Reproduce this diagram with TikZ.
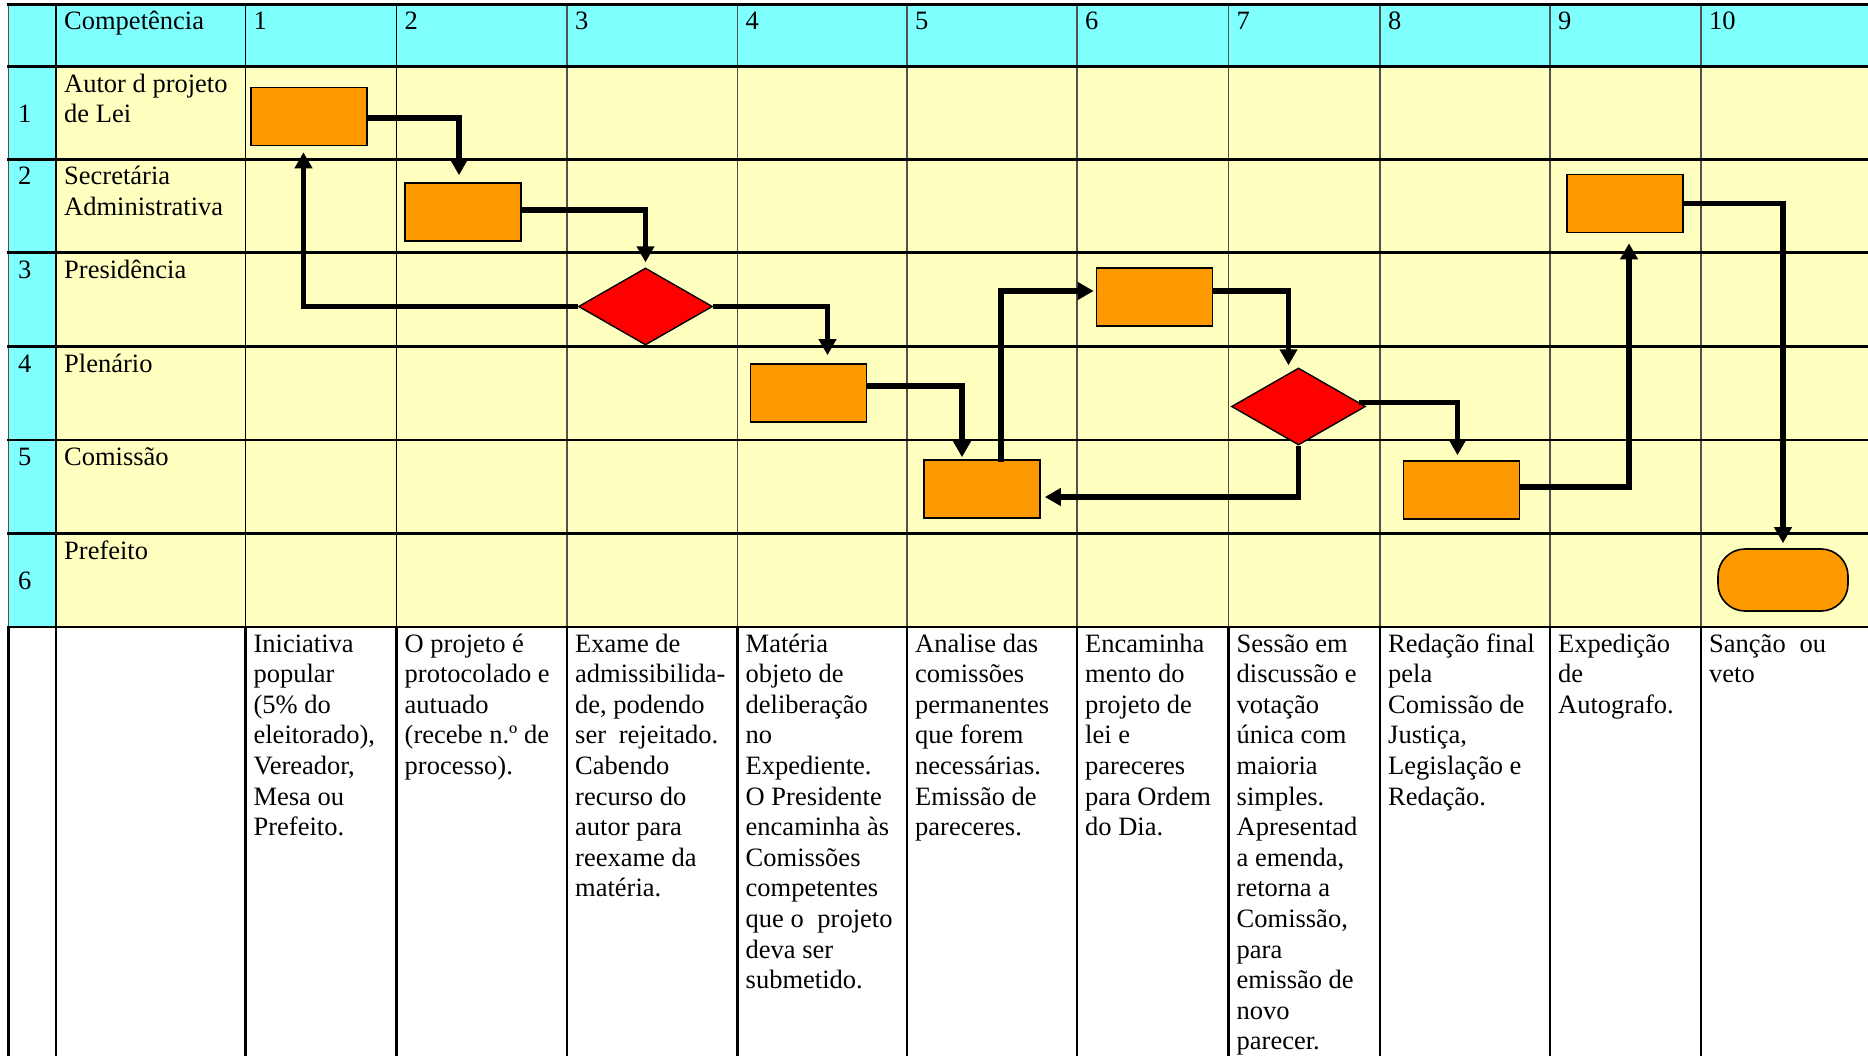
\documentclass[tikz,border=0pt]{standalone}
\usepackage{fontspec}
\setmainfont{Liberation Serif}
\newfontfamily\tnrfont{Liberation Serif}
\usetikzlibrary{shapes.geometric,arrows.meta,calc}
\definecolor{hdrcyan}{HTML}{80FFFF}
\definecolor{laneyel}{HTML}{FFFFC0}
\definecolor{boxorange}{HTML}{FF9900}
\definecolor{decred}{HTML}{FF0000}
\definecolor{gridgray}{HTML}{505050}
\newcommand{\celltext}[1]{\parbox[t]{240pt}{\raggedright #1}}
\begin{document}
\begin{tikzpicture}[x=1pt,y=-1pt,
  lbl/.style={anchor=base west, inner sep=0pt, font=\tnrfont\fontsize{26.5}{30.6}\selectfont},
  vthin/.style={draw=gridgray, line width=1.4pt},
  vdark/.style={draw=black, line width=1.8pt},
  vthick/.style={draw=black, line width=2.4pt},
  hline/.style={draw=black, line width=2.6pt},
  procbox/.style={draw=black, line width=1.6pt, fill=boxorange, minimum width=116pt, minimum height=58pt, inner sep=0pt},
  decision/.style={diamond, draw=black, line width=1.4pt, fill=decred, minimum width=134pt, minimum height=77pt, inner sep=0pt},
  termbox/.style={draw=black, line width=1.6pt, fill=boxorange, minimum width=130pt, minimum height=62pt, inner sep=0pt, rounded corners=27pt},
  arr/.style={line width=5.5pt, -{Triangle[width=17pt,length=16pt]}}
]
\useasboundingbox (0,0) rectangle (1868,1056);
\fill[white] (0,0) rectangle (1868,1056);
% backgrounds
\fill[hdrcyan] (8.4,4.5) rectangle (1868,66.7);
\fill[hdrcyan] (8.4,66.7) rectangle (56,627);
\fill[laneyel] (56,66.7) rectangle (1868,627);
% vertical grid lines
\foreach \x in {8.4,567,737.5,907,1077,1228.5,1380,1550,1701} {
  \draw[vthin] (\x,4.5) -- (\x,627);
  \draw[vthick] (\x,627) -- (\x,1056);
}
\foreach \x in {56,245.4,396.5} {
  \draw[vdark] (\x,4.5) -- (\x,627);
  \draw[vthick] (\x,627) -- (\x,1056);
}
% horizontal grid lines
\foreach \y in {4.5,66.7,159.5,252.7,346.7,440,533.5,627} {
  \draw[hline] (7.2,\y) -- (1868,\y);
}

% header row
\node[lbl] (hc) at (64,30) {Competência};
\node[lbl] (h1) at (253.4,30) {1};
\node[lbl] (h2) at (404.5,30) {2};
\node[lbl] (h3) at (575,30) {3};
\node[lbl] (h4) at (745.5,30) {4};
\node[lbl] (h5) at (915,30) {5};
\node[lbl] (h6) at (1085,30) {6};
\node[lbl] (h7) at (1236.5,30) {7};
\node[lbl] (h8) at (1388,30) {8};
\node[lbl] (h9) at (1558,30) {9};
\node[lbl] (h10) at (1709,30) {10};

% row numbers
\node[lbl] (n1) at (18,122.8) {1};
\node[lbl] (n2) at (18,185) {2};
\node[lbl] (n3) at (18,278.2) {3};
\node[lbl] (n4) at (18,372.2) {4};
\node[lbl] (n5) at (18,465.5) {5};
\node[lbl] (n6) at (18,589.6) {6};

% row labels
\node[lbl] (l1) at (64,92.2) {\celltext{Autor d projeto\\de Lei}};
\node[lbl] (l2) at (64,185) {\celltext{Secretária\\Administrativa}};
\node[lbl] (l3) at (64,278.2) {Presidência};
\node[lbl] (l4) at (64,372.2) {Plenário};
\node[lbl] (l5) at (64,465.5) {Comissão};
\node[lbl] (l6) at (64,559) {Prefeito};

% descriptions
\node[lbl] (t1) at (253.4,652) {\celltext{Iniciativa\\popular\\(5\% do\\eleitorado),\\Vereador,\\Mesa ou\\Prefeito.}};
\node[lbl] (t2) at (404.5,652) {\celltext{O projeto é\\protocolado e\\autuado\\(recebe n.º de\\processo).}};
\node[lbl] (t3) at (575,652) {\celltext{Exame de\\admissibilida-\\de, podendo\\\makebox[143pt][s]{ser rejeitado.}\\Cabendo\\recurso do\\autor para\\reexame da\\matéria.}};
\node[lbl] (t4) at (745.5,652) {\celltext{Matéria\\objeto de\\deliberação\\no\\Expediente.\\O Presidente\\encaminha às\\Comissões\\competentes\\que o\hspace{7pt} projeto\\deva ser\\submetido.}};
\node[lbl] (t5) at (915,652) {\celltext{Analise das\\comissões\\permanentes\\que forem\\necessárias.\\Emissão de\\pareceres.}};
\node[lbl] (t6) at (1085,652) {\celltext{Encaminha\\mento do\\projeto de\\lei e\\pareceres\\para Ordem\\do Dia.}};
\node[lbl] (t7) at (1236.5,652) {\celltext{Sessão em\\discussão e\\votação\\única com\\maioria\\simples.\\Apresentad\\a emenda,\\retorna a\\Comissão,\\para\\emissão de\\novo\\parecer.}};
\node[lbl] (t8) at (1388,652) {\celltext{Redação final\\pela\\Comissão de\\Justiça,\\Legislação e\\Redação.}};
\node[lbl] (t9) at (1558,652) {\celltext{Expedição\\de\\Autografo.}};
\node[lbl] (t10) at (1709,652) {\celltext{\makebox[117pt][s]{Sanção ou}\\veto}};

% flow shapes
\node[procbox] (b1) at (309,116.5) {};
\node[procbox] (b2) at (463,212) {};
\node[decision] (d1) at (645.5,306.5) {};
\node[procbox] (b3) at (808.5,393) {};
\node[procbox] (b4) at (982,489) {};
\node[procbox] (b5) at (1154.5,297) {};
\node[decision] (d2) at (1298.5,406.5) {};
\node[procbox] (b6) at (1461.5,490) {};
\node[procbox] (b7) at (1625,203.5) {};
\node[termbox] (tm) at (1783,580) {};

% connectors
\draw[arr, shorten >=7pt] ([yshift=-1.5pt]b1.east) -| ([xshift=-4pt]b2.north);
\draw[arr, shorten >=5pt] ([yshift=2pt]b2.east) -| (d1.north);
\draw[arr, shorten >=6pt] (d1.west) -| ([xshift=-5.5pt]b1.south);
\draw[arr, shorten >=8pt] (d1.east) -| ([xshift=19pt]b3.north);
\draw[arr, shorten >=2pt] ([yshift=7pt]b3.east) -| ([xshift=-20pt]b4.north);
\draw[arr, shorten >=2pt] ([xshift=19pt,yshift=-3pt]b4.north) |- ([yshift=6pt]b5.west);
\draw[arr, shorten >=2pt] ([yshift=6pt]b5.east) -| ([xshift=-10pt]d2.north);
\draw[arr, shorten >=5pt] (d2.4) -| ([xshift=-4pt]b6.north);
\draw[arr, shorten >=4pt] (d2.south) |- ([yshift=-8pt]b4.east);
\draw[arr, shorten >=10pt] ([yshift=3pt]b6.east) -| ([xshift=4pt]b7.south);
\draw[arr, shorten >=5pt] (b7.east) -| (tm.north);
\end{tikzpicture}
\end{document}
